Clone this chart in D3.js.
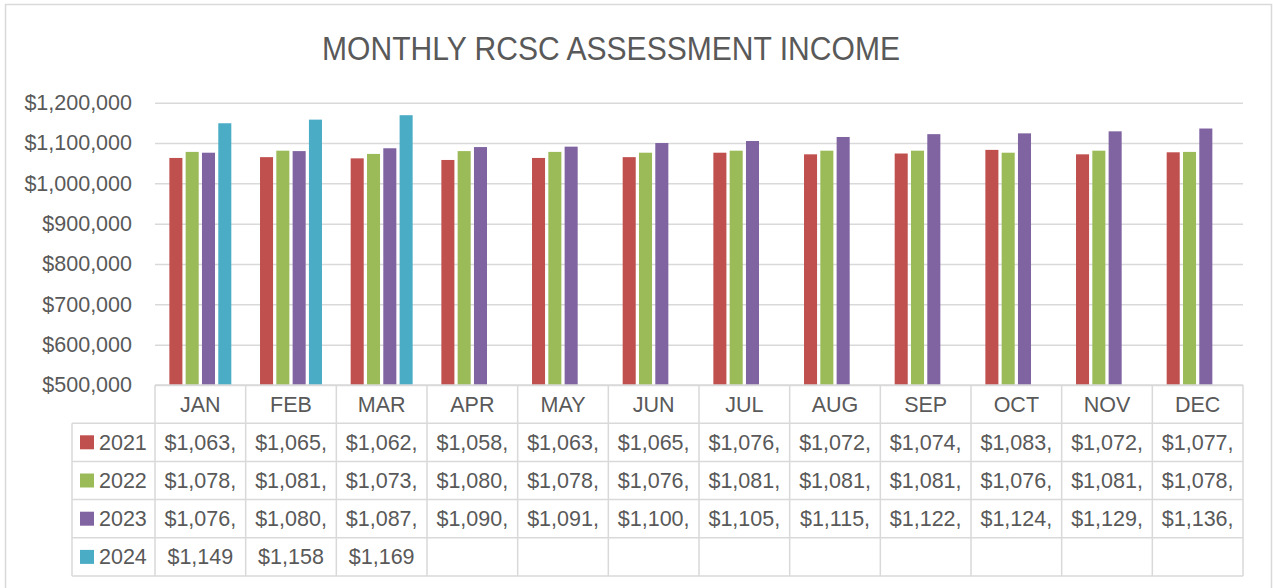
<!DOCTYPE html>
<html lang="en">
<head>
    <meta charset="UTF-8">
    <title>Monthly RCSC Assessment Income</title>
    <script src="https://d3js.org/d3.v7.min.js"></script>
    <style>
        body { margin: 0; background: #fff; }
        text { font-family: "Liberation Sans", Arial, sans-serif; fill: #595959; }
    </style>
</head>
<body>
    <svg width="1273" height="588"></svg>

    <script>

        // Data (values in dollars)
        const months = ["JAN", "FEB", "MAR", "APR", "MAY", "JUN", "JUL", "AUG", "SEP", "OCT", "NOV", "DEC"];
        const years = ["2021", "2022", "2023", "2024"];
        const colors = ["#C0504D", "#9BBB59", "#8064A2", "#4BACC6"];

        const income2021 = [1063000, 1065000, 1062000, 1058000, 1063000, 1065000, 1076000, 1072000, 1074000, 1083000, 1072000, 1077000];
        const income2022 = [1078000, 1081000, 1073000, 1080000, 1078000, 1076000, 1081000, 1081000, 1081000, 1076000, 1081000, 1078000];
        const income2023 = [1076000, 1080000, 1087000, 1090000, 1091000, 1100000, 1105000, 1115000, 1122000, 1124000, 1129000, 1136000];
        const income2024 = [1149000, 1158000, 1169000];

        const yTicks = [500000, 600000, 700000, 800000, 900000, 1000000, 1100000, 1200000];

        const series = [income2021, income2022, income2023, income2024];

        const svg = d3.select("svg");
        const grey = "#d9d9d9";
        const fontSize = "21.5px";

        // chart frame
        svg.append("rect")
           .attr("x", 5.5).attr("y", 4.5)
           .attr("width", 1266).attr("height", 620)
           .attr("fill", "#fff")
           .attr("stroke", grey)
           .attr("stroke-width", 1.5);

        // Scales
        const x = d3.scaleBand().domain(months).range([155, 1243]);
        const xInner = d3.scaleBand().domain(years).range([0, x.bandwidth()])
                         .paddingInner(0.2).paddingOuter(0.88);
        const y = d3.scaleLinear().domain([500000, 1200000]).range([385, 102.7]);

        // y axis with gridlines
        const yAxis = svg.append("g")
           .attr("transform", "translate(155,0)")
           .call(d3.axisLeft(y).tickValues(yTicks)
                 .tickSize(-(1243 - 155)).tickPadding(23)
                 .tickFormat(d3.format("$,.0f")));
        yAxis.select(".domain").remove();
        yAxis.selectAll(".tick line").attr("stroke", grey).attr("stroke-width", 1.5);
        yAxis.selectAll(".tick text")
             .attr("fill", "#595959")
             .style("font-size", fontSize)
             .style("font-family", "'Liberation Sans', Arial, sans-serif");

        // bars
        series.forEach((vals, si) => {
            svg.append("g")
               .selectAll("rect")
               .data(vals)
               .enter()
               .append("rect")
               .attr("x", (d, i) => x(months[i]) + xInner(years[si]))
               .attr("y", d => y(d))
               .attr("width", xInner.bandwidth())
               .attr("height", d => y(500000) - y(d))
               .attr("fill", colors[si]);
        });

        // data table
        const rows = d3.scaleBand().domain(["head"].concat(years)).range([385, 576]);
        const table = svg.append("g");
        const line = (x1, y1, x2, y2) => table.append("line")
            .attr("x1", x1).attr("y1", y1).attr("x2", x2).attr("y2", y2)
            .attr("stroke", grey).attr("stroke-width", 1.5);

        line(155, rows("head"), 1243, rows("head"));
        years.forEach(yr => line(72, rows(yr), 1243, rows(yr)));
        line(72, 576, 1243, 576);
        line(72, rows("2021"), 72, 576);
        months.forEach(m => line(x(m), 385, x(m), 576));
        line(1243, 385, 1243, 576);

        // month header
        table.selectAll(".month")
             .data(months)
             .enter()
             .append("text")
             .attr("x", d => x(d) + x.bandwidth() / 2)
             .attr("y", rows("head") + rows.bandwidth() / 2 + 7.5)
             .attr("text-anchor", "middle")
             .style("font-size", fontSize)
             .text(d => d);

        // legend keys
        years.forEach((yr, si) => {
            table.append("rect")
                 .attr("x", 80).attr("y", rows(yr) + rows.bandwidth() / 2 - 7)
                 .attr("width", 14).attr("height", 14)
                 .attr("fill", colors[si]);
            table.append("text")
                 .attr("x", 99)
                 .attr("y", rows(yr) + rows.bandwidth() / 2 + 7.5)
                 .style("font-size", fontSize)
                 .text(yr);
        });

        // cell values (cut off the same way the cells show them)
        const fmt = d3.format("$,.0f");
        series.forEach((vals, si) => {
            table.selectAll(".v" + si)
                 .data(vals)
                 .enter()
                 .append("text")
                 .attr("x", (d, i) => x(months[i]) + x.bandwidth() / 2)
                 .attr("y", rows(years[si]) + rows.bandwidth() / 2 + 7.5)
                 .attr("text-anchor", "middle")
                 .style("font-size", fontSize)
                 .text(d => years[si] === "2024" ? fmt(d).slice(0, 6) : fmt(d).slice(0, 7));
        });

        // Title
        svg.append("text")
           .attr("x", 611)
           .attr("y", 60)
           .attr("text-anchor", "middle")
           .attr("textLength", 578)
           .attr("lengthAdjust", "spacingAndGlyphs")
           .style("font-size", "34px")
           .text("MONTHLY RCSC ASSESSMENT INCOME");

    </script>
</body>
</html>
